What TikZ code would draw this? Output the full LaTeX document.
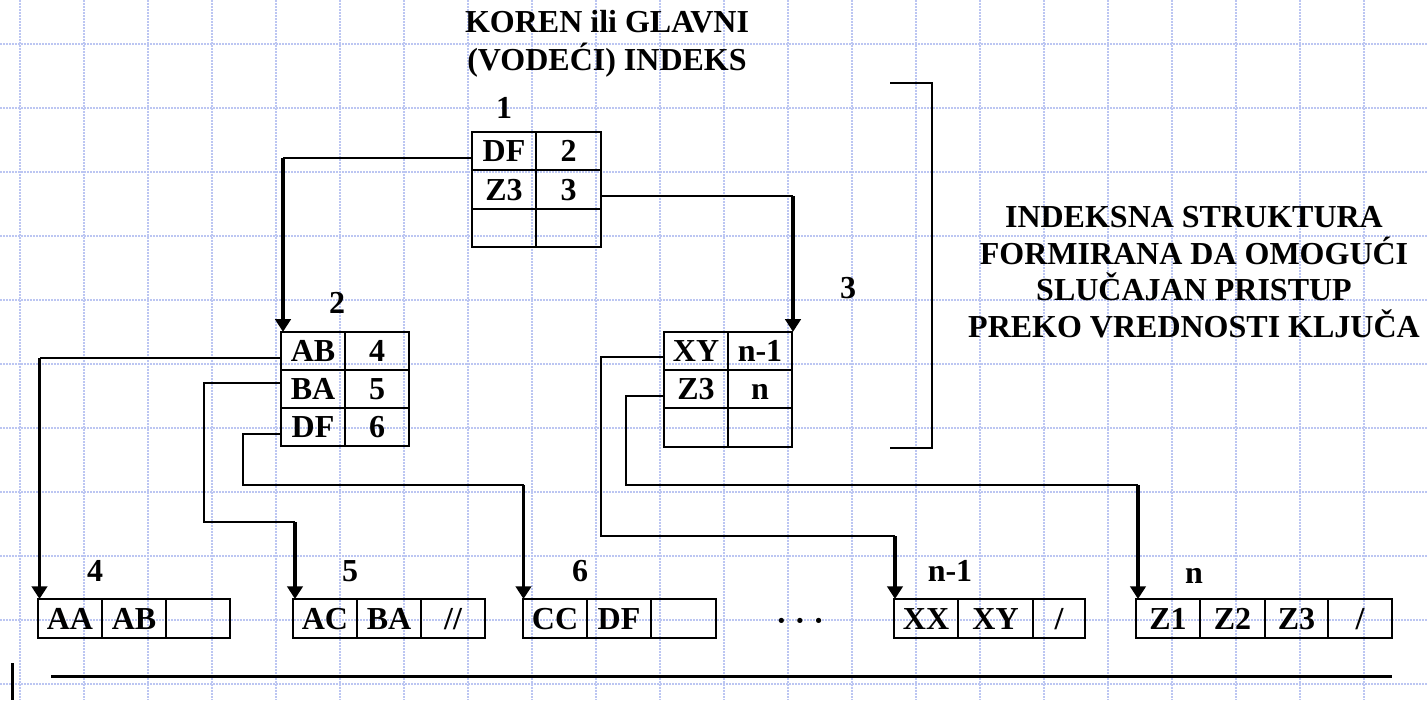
\documentclass[tikz,border=0pt]{standalone}
\usepackage{fontspec}
\setmainfont{Liberation Serif}
\usetikzlibrary{arrows.meta,calc}
\definecolor{gridc}{RGB}{188,198,242}
\begin{document}
\begin{tikzpicture}[x=0.75pt,y=-0.75pt,
  every node/.style={font=\fontsize{24}{28.5}\selectfont\bfseries},
  cell/.style={draw,line width=1.5pt,inner sep=0pt,outer sep=0pt,minimum width=48pt,minimum height=28.7pt,text height=16pt,text depth=0pt},
  lbl/.style={inner sep=0pt,text height=16pt,text depth=0pt},
  conn/.style={line width=1.5pt},
  arr/.style={line width=2.5pt,-{Triangle[width=11.5pt,length=9.5pt]}},
  gridline/.style={gridc,line width=0.9pt,dash pattern=on 1.5pt off 0.75pt}]
\useasboundingbox (0,0) rectangle (1427,700);
% grid
\foreach \i in {0,...,22} \draw[gridline] (20+64*\i,0) -- (20+64*\i,700);
\foreach \j in {0,...,10} \draw[gridline] (0,44+64*\j) -- (1427,44+64*\j);

% titles
\node[align=center,font=\fontsize{24}{28.5}\selectfont\bfseries] (title) at (607,44) {KOREN ili GLAVNI\\(VODEĆI) INDEKS};
\node[align=center,font=\fontsize{24}{27.5}\selectfont\bfseries] (desc) at (1194,272) {INDEKSNA STRUKTURA\\FORMIRANA DA OMOGUĆI\\SLUČAJAN PRISTUP\\PREKO VREDNOSTI KLJUČA};

% root index (1)
\node[cell] (r1a) at (504,151.2) {DF};
\node[cell,minimum width=48.75pt] (r1b) at (568.5,151.2) {2};
\node[cell] (r2a) at (504,189.5) {Z3};
\node[cell,minimum width=48.75pt] (r2b) at (568.5,189.5) {3};
\node[cell] (r3a) at (504,227.8) {};
\node[cell,minimum width=48.75pt] (r3b) at (568.5,227.8) {};
\node[lbl] (l1) at (504,108) {1};

% index 2
\node[cell] (n2aa) at (313,351) {AB};
\node[cell] (n2ab) at (377,351) {4};
\node[cell] (n2ba) at (313,389) {BA};
\node[cell] (n2bb) at (377,389) {5};
\node[cell] (n2ca) at (313,427) {DF};
\node[cell] (n2cb) at (377,427) {6};
\node[lbl] (l2) at (337,303) {2};

% index 3
\node[cell] (n3aa) at (696,351) {XY};
\node[cell] (n3ab) at (760,351) {n-1};
\node[cell] (n3ba) at (696,389) {Z3};
\node[cell] (n3bb) at (760,389) {n};
\node[cell] (n3ca) at (696,427.5) {};
\node[cell] (n3cb) at (760,427.5) {};
\node[lbl] (l3) at (848,288) {3};

% data blocks
\tikzset{bcell/.style={cell,minimum height=29.25pt}}
\node[bcell] (b4a) at (70,618.5) {AA};
\node[bcell] (b4b) at (134,618.5) {AB};
\node[bcell] (b4c) at (198,618.5) {};
\node[lbl] (l4) at (95,571) {4};

\node[bcell] (b5a) at (325,618.5) {AC};
\node[bcell] (b5b) at (389,618.5) {BA};
\node[bcell] (b5c) at (453,618.5) {//};
\node[lbl] (l5) at (350,571) {5};

\node[bcell] (b6a) at (555,618.5) {CC};
\node[bcell] (b6b) at (619,618.5) {DF};
\node[bcell,minimum width=48.75pt] (b6c) at (683.5,618.5) {};
\node[lbl] (l6) at (580,571) {6};

\node (dots) at (800,625) {· · ·};

\node[bcell] (bma) at (926,618.5) {XX};
\node[bcell,minimum width=56.25pt] (bmb) at (995.5,618.5) {XY};
\node[bcell,minimum width=39pt] (bmc) at (1059,618.5) {/};
\node[lbl] (lm) at (950,571) {n-1};

\node[bcell] (bna) at (1168,618.5) {Z1};
\node[bcell,minimum width=48.75pt] (bnb) at (1232.5,618.5) {Z2};
\node[bcell,minimum width=47.6pt] (bnc) at (1296.5,618.5) {Z3};
\node[bcell] (bnd) at (1360,618.5) {/};
\node[lbl] (ln) at (1194,573) {n};

% connectors
% root DF -> index 2
\coordinate (s1) at ($(r1a.west)+(0,6.8)$);
\coordinate (t1) at ($(n2aa.north west)+(2,0)$);
\draw[conn] (s1) -- (s1 -| t1);
\draw[arr] (s1 -| t1) -- (t1);
% root Z3 -> index 3
\coordinate (s2) at ($(r2b.east)+(0,6.5)$);
\coordinate (t2) at ($(n3ab.north east)+(1,0)$);
\draw[conn] (s2) -- (s2 -| t2);
\draw[arr] (s2 -| t2) -- (t2);
% AB -> block 4
\coordinate (s3) at ($(n2aa.west)+(0,6.7)$);
\coordinate (t3) at ($(b4a.north west)+(1.5,0)$);
\draw[conn] (s3) -- (s3 -| t3);
\draw[arr] (s3 -| t3) -- (t3);
% BA -> block 5
\coordinate (s4) at ($(n2ba.west)+(0,-6.3)$);
\coordinate (k4) at (204,522);
\coordinate (t4) at ($(b5a.north west)+(2,0)$);
\draw[conn] (s4) -| (k4) -- (k4 -| t4);
\draw[arr] (k4 -| t4) -- (t4);
% DF -> block 6
\coordinate (s5) at ($(n2ca.west)+(0,7)$);
\coordinate (k5) at (243,485);
\coordinate (t5) at ($(b6a.north west)+(0.5,0)$);
\draw[conn] (s5) -| (k5) -- (k5 -| t5);
\draw[arr] (k5 -| t5) -- (t5);
% XY -> block n-1
\coordinate (s6) at ($(n3aa.west)+(0,5.7)$);
\coordinate (k6) at (601,536);
\coordinate (t6) at ($(bma.north west)+(1,0)$);
\draw[conn] (s6) -| (k6) -- (k6 -| t6);
\draw[arr] (k6 -| t6) -- (t6);
% Z3 -> block n
\coordinate (s7) at ($(n3ba.west)+(0,7)$);
\coordinate (k7) at (626,485);
\coordinate (t7) at ($(bna.north west)+(2,0)$);
\draw[conn] (s7) -| (k7) -- (k7 -| t7);
\draw[arr] (k7 -| t7) -- (t7);

% bracket
\draw[conn] (890,83) -- (932,83) -- (932,448) -- (890,448);

% bottom line and bar
\draw[line width=2.25pt] (51,676) -- (1392,676);
\draw[line width=1.9pt] (12.3,663) -- (12.3,700);
\end{tikzpicture}
\end{document}
